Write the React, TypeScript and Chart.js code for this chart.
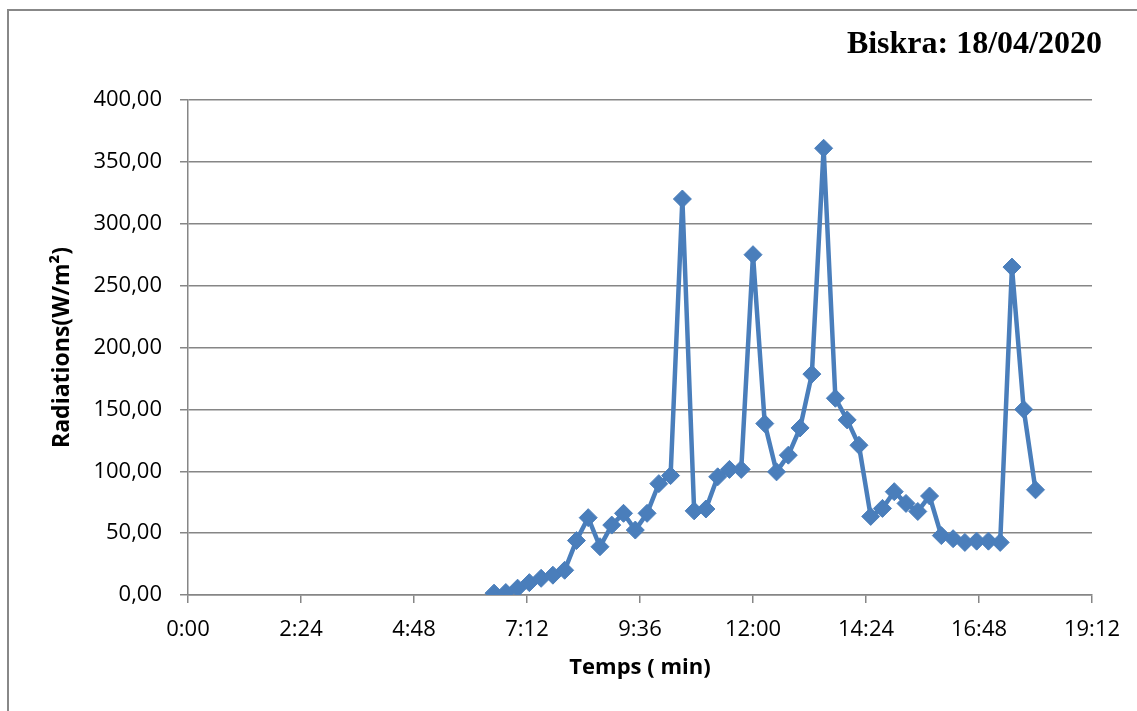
import React, { useEffect, useRef } from "react";
import { Chart, registerables } from "chart.js";

Chart.register(...registerables);

const times: string[] = [
  "6:30", "6:45", "7:00", "7:15", "7:30", "7:45", "8:00", "8:15", "8:30", "8:45",
  "9:00", "9:15", "9:30", "9:45", "10:00", "10:15", "10:30", "10:45", "11:00", "11:15",
  "11:30", "11:45", "12:00", "12:15", "12:30", "12:45", "13:00", "13:15", "13:30", "13:45",
  "14:00", "14:15", "14:30", "14:45", "15:00", "15:15", "15:30", "15:45", "16:00", "16:15",
  "16:30", "16:45", "17:00", "17:15", "17:30", "17:45", "18:00",
];

const radiations: number[] = [
  1.5, 2, 5.5, 10, 13.5, 16, 20, 44, 62.5, 39,
  56.5, 66, 52.5, 66, 90, 96.5, 320, 68, 69.5, 95.5,
  101.5, 101.5, 275, 138.5, 99.5, 113, 135, 178.5, 361, 159,
  141.5, 121, 63.5, 70, 83.5, 74, 67.5, 80, 48, 45.5,
  42.5, 43.5, 43.5, 42.5, 265, 150, 85,
];

const xTickMinutes: number[] = [0, 144, 288, 432, 576, 720, 864, 1008, 1152];
const yTicks: number[] = [0, 50, 100, 150, 200, 250, 300, 350, 400];

const titleText = "Biskra: 18/04/2020";
const xTitle = "Temps ( min)";
const yTitle = "Radiations(W/m²)";

const toMinutes = (t: string) => {
  const [h, m] = t.split(":").map(Number);
  return h * 60 + m;
};
const fmtTime = (v: number) => {
  const h = Math.floor(v / 60);
  const m = Math.round(v % 60);
  return `${h}:${m.toString().padStart(2, "0")}`;
};

const BLUE = "#4A7EBB";
const GRID = "#868686";
const TICK_FONT = { family: "'Open Sans', sans-serif", size: 22 };
const TITLE_FONT = { family: "'Open Sans', sans-serif", size: 22, weight: "bold" as const };
const Y_TITLE_FONT = { family: "'Open Sans', sans-serif", size: 23, weight: "bold" as const };

export default function App() {
  const canvasRef = useRef<HTMLCanvasElement | null>(null);

  useEffect(() => {
    const canvas = canvasRef.current;
    if (!canvas) return;

    const titlePlugin = {
      id: "cornerTitle",
      afterDraw(chart: any) {
        const ctx = chart.ctx;
        ctx.save();
        ctx.font = "bold 32px 'Liberation Serif', 'Times New Roman', serif";
        ctx.fillStyle = "#000";
        ctx.textAlign = "right";
        ctx.textBaseline = "alphabetic";
        ctx.fillText(titleText, 1102, 53);
        ctx.restore();
      },
    };

    const chart = new Chart(canvas, {
      type: "line",
      data: {
        datasets: [
          {
            data: times.map((t, i) => ({ x: toMinutes(t), y: radiations[i] })),
            borderColor: BLUE,
            backgroundColor: BLUE,
            borderWidth: 4.5,
            pointStyle: "rectRot",
            pointRadius: 9,
            pointBackgroundColor: BLUE,
            pointBorderColor: BLUE,
            pointBorderWidth: 1,
            tension: 0,
            fill: false,
          },
        ],
      },
      plugins: [titlePlugin],
      options: {
        responsive: false,
        animation: false,
        maintainAspectRatio: false,
        layout: { padding: { left: 20, top: 100, right: 45, bottom: 0 } },
        plugins: {
          legend: { display: false },
          tooltip: { enabled: false },
          title: { display: false },
        },
        scales: {
          x: {
            type: "linear",
            min: 0,
            max: 1152,
            afterBuildTicks: (scale: any) => {
              scale.ticks = xTickMinutes.map((v) => ({ value: v }));
            },
            afterFit: (scale: any) => {
              scale.height = 116;
            },
            ticks: {
              callback: (v: any) => fmtTime(Number(v)),
              font: TICK_FONT,
              color: "#000",
              maxRotation: 0,
              autoSkip: false,
              padding: 14,
            },
            grid: {
              drawOnChartArea: false,
              drawTicks: true,
              tickLength: 8,
              color: GRID,
              lineWidth: 1.5,
            },
            border: { display: true, color: GRID, width: 1.5 },
            title: {
              display: true,
              text: xTitle,
              font: TITLE_FONT,
              color: "#000",
              padding: { top: 0, bottom: 30 },
            },
          },
          y: {
            type: "linear",
            min: 0,
            max: 400,
            afterBuildTicks: (scale: any) => {
              scale.ticks = yTicks.map((v) => ({ value: v }));
            },
            afterFit: (scale: any) => {
              scale.width = 168;
            },
            ticks: {
              callback: (v: any) => Number(v).toFixed(2).replace(".", ","),
              font: TICK_FONT,
              color: "#000",
              padding: 18,
            },
            grid: {
              drawOnChartArea: true,
              drawTicks: true,
              tickLength: 8,
              color: GRID,
              lineWidth: 1.5,
            },
            border: { display: true, color: GRID, width: 1.5 },
            title: {
              display: true,
              text: yTitle,
              font: Y_TITLE_FONT,
              color: "#000",
              padding: { top: 29, bottom: 0 },
            },
          },
        },
      },
    } as any);

    return () => {
      chart.destroy();
    };
  }, []);

  return (
    <div
      style={{
        position: "fixed",
        left: 0,
        top: 0,
        width: 1137,
        height: 711,
        overflow: "hidden",
        background: "#fff",
      }}
    >
      <div
        style={{
          position: "absolute",
          left: 7,
          top: 9,
          width: 1200,
          height: 800,
          border: "2px solid #888",
          boxSizing: "border-box",
        }}
      />
      <canvas
        ref={canvasRef}
        width={1137}
        height={711}
        style={{ position: "absolute", left: 0, top: 0, width: 1137, height: 711 }}
      />
    </div>
  );
}
